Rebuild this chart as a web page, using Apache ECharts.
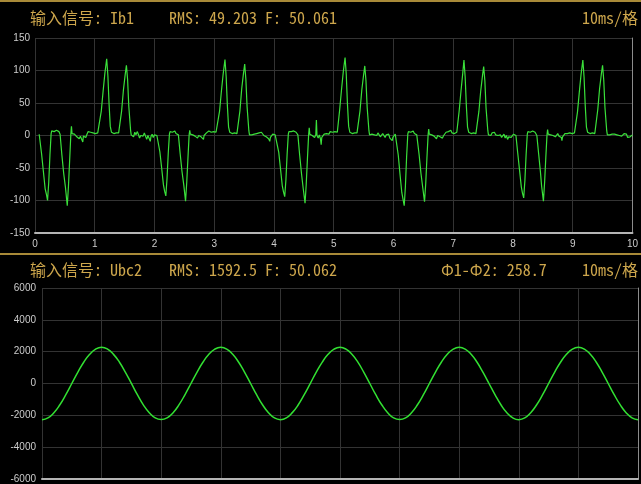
<!DOCTYPE html>
<html><head><meta charset="utf-8">
<script src="https://cdn.jsdelivr.net/npm/echarts@6/dist/echarts.min.js"></script>
<style>html,body{margin:0;padding:0;background:#000;}#c{width:641px;height:484px;}</style>
</head><body><div id="c"></div>
<script>
// ---- Header texts ----
const topTitle = '输入信号: Ib1';
const topStats = 'RMS: 49.203 F: 50.061';
const bottomTitle = '输入信号: Ubc2';
const bottomStats = 'RMS: 1592.5 F: 50.062';
const bottomPhase = 'Φ1-Φ2: 258.7';
const timeScale = '10ms/格';

// ---- Axis ranges / ticks ----
const xTicks = [0, 10, 1];            // min, max, interval (divisions)
const ibAxis = [-150, 150, 50];
const ubcAxis = [-6000, 6000, 2000];

// ---- Current Ib1 samples [time division, value] ----
const ibCycle1 = [[0.07,2],[0.08,0],[0.11,-28],[0.14,-55],[0.17,-82],[0.19,-90],[0.21,-100],[0.23,-72],[0.25,-30],[0.27,3],[0.28,7],[0.30,4],[0.32,6],[0.34,5],[0.36,8],[0.38,5],[0.40,6],[0.42,2],[0.45,-30],[0.48,-58],[0.51,-80],[0.54,-108],[0.56,-78],[0.58,-38],[0.60,2],[0.61,14],[0.62,3],[0.64,5],[0.66,2],[0.68,4],[0.70,-2],[0.72,1],[0.74,-5],[0.76,-1],[0.78,2],[0.80,-10],[0.81,-1],[0.83,1],[0.85,-3],[0.87,2],[0.89,6],[0.91,4],[0.93,5],[0.95,8],[0.97,4],[0.99,5],[1.01,3],[1.03,6],[1.05,4],[1.07,6],[1.08,7],[1.11,38],[1.14,68],[1.17,96],[1.20,118],[1.22,92],[1.24,48],[1.26,14],[1.28,5],[1.30,6],[1.32,3],[1.34,5],[1.36,4],[1.38,6],[1.40,4],[1.42,6],[1.45,38],[1.48,70],[1.51,94],[1.53,108],[1.55,86],[1.57,45],[1.60,8],[1.61,1],[1.63,4],[1.65,-2],[1.67,5],[1.69,1],[1.71,6],[1.73,2],[1.75,-4],[1.77,0],[1.79,3],[1.81,-1],[1.83,4],[1.85,1],[1.87,-6],[1.89,0],[1.91,-3],[1.93,-9],[1.94,-2],[1.96,2],[1.98,-3],[2.00,1],[2.02,3],[2.04,0]];
const ibCycle2 = [[2.06,0],[2.09,-25],[2.12,-50],[2.15,-76],[2.17,-86],[2.19,-93],[2.21,-66],[2.23,-28],[2.25,2],[2.26,6],[2.28,3],[2.30,5],[2.32,4],[2.34,7],[2.36,3],[2.38,5],[2.40,1],[2.43,-28],[2.46,-55],[2.49,-76],[2.52,-101],[2.54,-72],[2.56,-35],[2.58,1],[2.59,8],[2.60,2],[2.62,4],[2.64,1],[2.66,3],[2.68,-1],[2.70,2],[2.72,-4],[2.74,0],[2.76,3],[2.78,-2],[2.80,1],[2.82,-6],[2.83,0],[2.85,2],[2.87,4],[2.89,3],[2.91,7],[2.93,4],[2.95,5],[2.97,3],[2.99,6],[3.01,4],[3.03,5],[3.05,6],[3.06,7],[3.09,38],[3.12,68],[3.15,95],[3.18,117],[3.20,90],[3.22,46],[3.24,13],[3.26,5],[3.28,6],[3.30,3],[3.32,5],[3.34,4],[3.36,6],[3.38,3],[3.40,5],[3.43,38],[3.46,72],[3.49,96],[3.51,110],[3.53,86],[3.55,44],[3.58,7],[3.59,1],[3.61,3],[3.63,1],[3.65,4],[3.67,2],[3.69,5],[3.71,3],[3.73,1],[3.75,4],[3.77,2],[3.79,5],[3.81,2],[3.83,0],[3.85,3],[3.87,-2],[3.89,1],[3.91,-5],[3.93,-9],[3.94,-3],[3.96,0],[3.98,2],[4.00,-1],[4.02,1],[4.04,0]];
const ibCycle3 = [[4.05,0],[4.08,-26],[4.11,-52],[4.14,-78],[4.16,-87],[4.18,-94],[4.20,-68],[4.22,-29],[4.24,2],[4.25,6],[4.27,3],[4.29,6],[4.31,4],[4.33,7],[4.35,4],[4.37,5],[4.40,1],[4.43,-30],[4.46,-58],[4.49,-82],[4.52,-104],[4.54,-75],[4.56,-36],[4.58,1],[4.59,12],[4.60,2],[4.62,3],[4.64,0],[4.66,2],[4.68,-3],[4.70,1],[4.71,24],[4.72,0],[4.74,-4],[4.76,1],[4.78,-6],[4.79,-14],[4.80,-3],[4.82,0],[4.84,2],[4.86,-1],[4.88,3],[4.90,5],[4.92,2],[4.94,6],[4.96,4],[4.98,5],[5.00,3],[5.02,6],[5.04,4],[5.06,5],[5.07,6],[5.10,40],[5.13,70],[5.16,98],[5.19,120],[5.21,94],[5.23,48],[5.25,14],[5.27,5],[5.29,6],[5.31,3],[5.33,5],[5.35,4],[5.37,6],[5.39,4],[5.41,6],[5.44,38],[5.47,70],[5.50,93],[5.52,107],[5.54,84],[5.56,43],[5.59,7],[5.60,1],[5.62,4],[5.64,2],[5.66,5],[5.68,1],[5.70,3],[5.72,0],[5.74,4],[5.76,2],[5.78,-2],[5.80,1],[5.82,3],[5.84,0],[5.86,-3],[5.88,1],[5.90,-1],[5.92,2],[5.94,-4],[5.96,-2],[5.98,-8],[5.99,-3],[6.01,0],[6.03,2]];
const ibCycle4 = [[6.05,0],[6.08,-30],[6.11,-60],[6.14,-88],[6.16,-98],[6.18,-108],[6.20,-78],[6.22,-33],[6.24,2],[6.25,6],[6.27,3],[6.29,5],[6.31,4],[6.33,7],[6.35,3],[6.37,5],[6.39,1],[6.40,-1],[6.43,-30],[6.46,-58],[6.49,-80],[6.52,-102],[6.54,-74],[6.56,-35],[6.58,1],[6.59,10],[6.60,2],[6.62,4],[6.64,1],[6.66,3],[6.68,-1],[6.70,2],[6.72,-5],[6.74,0],[6.76,3],[6.78,-2],[6.80,1],[6.82,-4],[6.84,0],[6.86,3],[6.88,5],[6.90,3],[6.92,6],[6.94,4],[6.96,8],[6.98,4],[7.00,5],[7.02,3],[7.04,6],[7.06,5],[7.07,6],[7.10,38],[7.13,68],[7.16,96],[7.18,116],[7.20,90],[7.22,46],[7.24,13],[7.26,5],[7.28,6],[7.30,3],[7.32,5],[7.34,4],[7.36,6],[7.38,3],[7.40,5],[7.43,37],[7.46,68],[7.49,92],[7.51,106],[7.53,84],[7.55,42],[7.58,7],[7.59,1],[7.61,3],[7.63,0],[7.65,4],[7.67,2],[7.69,5],[7.71,1],[7.73,3],[7.75,0],[7.77,-2],[7.79,1],[7.81,-3],[7.83,-1],[7.85,2],[7.87,-4],[7.89,0],[7.91,-6],[7.93,-2],[7.95,1],[7.97,-3],[7.99,0],[8.01,2],[8.03,0]];
const ibCycle5 = [[8.05,0],[8.08,-27],[8.11,-53],[8.14,-79],[8.16,-89],[8.18,-96],[8.20,-69],[8.22,-30],[8.24,2],[8.25,6],[8.27,3],[8.29,5],[8.31,4],[8.33,7],[8.35,4],[8.37,5],[8.39,2],[8.40,0],[8.43,-28],[8.46,-56],[8.48,-78],[8.51,-101],[8.53,-72],[8.55,-34],[8.57,1],[8.58,9],[8.59,2],[8.61,4],[8.63,1],[8.65,3],[8.67,0],[8.69,2],[8.71,-2],[8.73,1],[8.75,3],[8.77,-1],[8.79,2],[8.81,-3],[8.82,-8],[8.83,-2],[8.85,1],[8.87,3],[8.89,5],[8.91,3],[8.93,6],[8.95,4],[8.97,5],[8.99,3],[9.01,6],[9.03,4],[9.05,6],[9.08,36],[9.11,66],[9.14,94],[9.17,116],[9.19,90],[9.21,46],[9.23,13],[9.25,5],[9.27,6],[9.29,3],[9.31,5],[9.33,4],[9.35,6],[9.37,3],[9.39,5],[9.42,40],[9.45,72],[9.48,95],[9.50,108],[9.52,85],[9.54,43],[9.57,7],[9.58,1],[9.60,3],[9.62,1],[9.64,4],[9.66,2],[9.68,5],[9.70,2],[9.72,4],[9.74,1],[9.76,3],[9.78,0],[9.80,2],[9.82,-1],[9.84,1],[9.86,3],[9.88,0],[9.90,2],[9.92,-3],[9.94,-5],[9.96,-2],[9.98,0],[10.00,1]];

// ---- Voltage Ubc2 samples, one every 0.1 division from 0 to 10 ----
const ubcStep = 0.1;
const ubcValues = [
 -2270,-2160,-1835,-1335,-700,0,700,1335,1835,2160,
 2275,2160,1830,1335,700,5,-700,-1340,-1835,-2160,
 -2265,-2155,-1835,-1330,-695,0,705,1335,1840,2160,
 2270,2165,1835,1335,700,0,-700,-1335,-1835,-2165,
 -2270,-2160,-1830,-1335,-700,-5,700,1330,1835,2160,
 2272,2160,1835,1340,700,0,-705,-1335,-1835,-2160,
 -2268,-2160,-1835,-1335,-700,0,700,1335,1835,2160,
 2270,2160,1835,1335,695,0,-700,-1335,-1840,-2160,
 -2272,-2165,-1835,-1335,-700,0,700,1335,1835,2165,
 2270,2160,1835,1335,700,0,-700,-1330,-1835,-2160,
 -2270
];

const ibData = [].concat(ibCycle1, ibCycle2, ibCycle3, ibCycle4, ibCycle5);
const ubcData = ubcValues.map((v, i) => [+(i * ubcStep).toFixed(2), v]);

const GOLD = '#cda64c';
const LINE_GOLD = '#a88a38';
const HEAD_FONT = '16px "Noto Sans Mono CJK SC", "Noto Sans CJK SC", monospace';
const LABEL = {color: '#cccccc', fontSize: 10, fontFamily: '"Liberation Sans", Arial, sans-serif',
  formatter: function (v) { return String(v); }};
const SPLIT = {show: true, lineStyle: {color: '#333333', width: 1}};

function headText(text, x, y, align) {
  return {type: 'text', x: x, y: y, silent: true,
    style: {text: text, fill: GOLD, font: HEAD_FONT, textAlign: align || 'left', textVerticalAlign: 'middle'}};
}

const chart = echarts.init(document.getElementById('c'), null, {renderer: 'canvas'});
chart.setOption({
  backgroundColor: '#000',
  animation: false,
  grid: [
    {left: 35, right: 5, top: 38, bottom: 251},
    {left: 42, right: 3, top: 288, bottom: 2}
  ],
  xAxis: [
    {type: 'value', gridIndex: 0, min: xTicks[0], max: xTicks[1], interval: xTicks[2],
     axisLine: {show: true, onZero: false, lineStyle: {color: '#b4b4b4', width: 2}},
     axisTick: {show: false}, axisLabel: Object.assign({margin: 6}, LABEL), splitLine: SPLIT},
    {type: 'value', gridIndex: 1, min: xTicks[0], max: xTicks[1], interval: xTicks[2],
     axisLine: {show: true, onZero: false, lineStyle: {color: '#b4b4b4', width: 2}},
     axisTick: {show: false}, axisLabel: {show: false}, splitLine: SPLIT}
  ],
  yAxis: [
    {type: 'value', gridIndex: 0, min: ibAxis[0], max: ibAxis[1], interval: ibAxis[2],
     axisLine: {show: false}, axisTick: {show: false}, axisLabel: Object.assign({margin: 5}, LABEL), splitLine: SPLIT},
    {type: 'value', gridIndex: 1, min: ubcAxis[0], max: ubcAxis[1], interval: ubcAxis[2],
     axisLine: {show: false}, axisTick: {show: false}, axisLabel: Object.assign({margin: 6}, LABEL), splitLine: SPLIT},
    {type: 'value', gridIndex: 0, position: 'right', min: ibAxis[0], max: ibAxis[1], interval: ibAxis[2],
     axisLine: {show: true, onZero: false, lineStyle: {color: '#8c8c8c', width: 1}},
     axisTick: {show: false}, axisLabel: {show: false}, splitLine: {show: false}},
    {type: 'value', gridIndex: 1, position: 'right', min: ubcAxis[0], max: ubcAxis[1], interval: ubcAxis[2],
     axisLine: {show: true, onZero: false, lineStyle: {color: '#8c8c8c', width: 1}},
     axisTick: {show: false}, axisLabel: {show: false}, splitLine: {show: false}}
  ],
  series: [
    {type: 'line', xAxisIndex: 0, yAxisIndex: 0, data: ibData, showSymbol: false,
     lineStyle: {color: '#3ae03a', width: 1.2}},
    {type: 'line', xAxisIndex: 1, yAxisIndex: 1, data: ubcData, showSymbol: false, smooth: true,
     lineStyle: {color: '#32e032', width: 1.5}}
  ],
  graphic: [
    {type: 'line', silent: true, shape: {x1: 0, y1: 1, x2: 641, y2: 1}, style: {stroke: LINE_GOLD, lineWidth: 2}},
    {type: 'line', silent: true, shape: {x1: 0, y1: 254, x2: 641, y2: 254}, style: {stroke: LINE_GOLD, lineWidth: 2}},
    headText(topTitle, 30, 18),
    headText(topStats, 169, 18),
    headText(timeScale, 638, 18, 'right'),
    headText(bottomTitle, 30, 270),
    headText(bottomStats, 169, 270),
    headText(bottomPhase, 441, 270),
    headText(timeScale, 638, 270, 'right')
  ]
});
</script></body></html>
